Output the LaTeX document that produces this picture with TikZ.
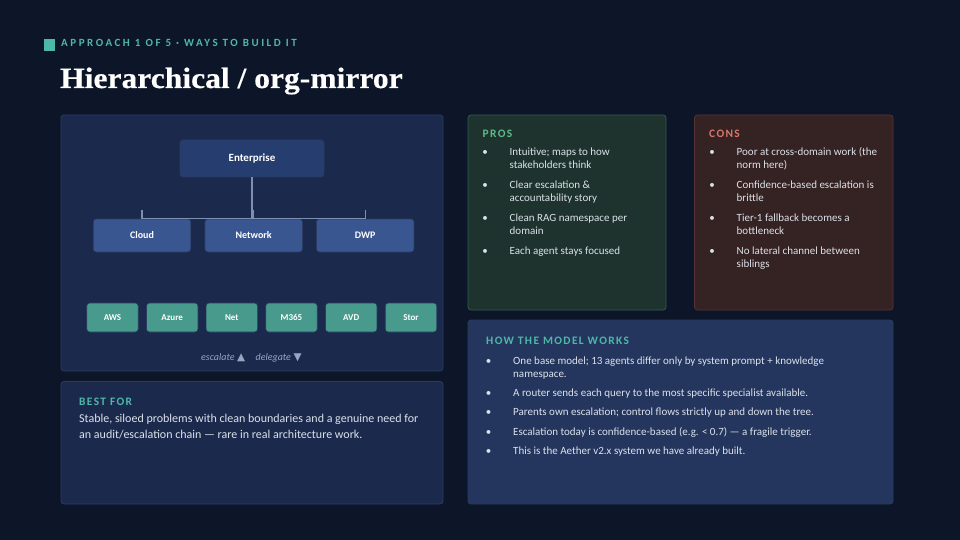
\documentclass[tikz,border=0pt]{standalone}
\usepackage{fontspec}
\setmainfont{Carlito}
\newfontface\titlefont{Liberation Serif Bold}[FakeStretch=1.07,FakeBold=0.4]
\newfontfamily\symfont{DejaVu Sans}
\definecolor{bgc}{HTML}{0D1629}
\definecolor{panelc}{HTML}{1B2A4C}
\definecolor{panelb}{HTML}{2B3B62}
\definecolor{entc}{HTML}{263D70}
\definecolor{midc}{HTML}{3A5690}
\definecolor{leafc}{HTML}{479A8C}
\definecolor{prosc}{HTML}{1E332D}
\definecolor{prosb}{HTML}{2F5B4B}
\definecolor{consc}{HTML}{352223}
\definecolor{consb}{HTML}{5A3233}
\definecolor{howc}{HTML}{24365E}
\definecolor{accent}{HTML}{4DB8A8}
\definecolor{greenh}{HTML}{5DBB8A}
\definecolor{redh}{HTML}{D9776B}
\definecolor{bodyc}{HTML}{DCE1EA}
\definecolor{linec}{HTML}{7F8FB3}
\definecolor{mutec}{HTML}{98A5C2}
\tikzset{
  x=1pt,y=-1pt,
  panel/.style={rounded corners=3pt,line width=0.8pt},
  box/.style={rounded corners=3pt,line width=0.6pt},
  boxlabel/.style={text=white,font=\fontsize{10}{12}\selectfont\bfseries,inner sep=0pt},
  leaflabel/.style={text=white,font=\fontsize{9}{11}\selectfont\bfseries,inner sep=0pt},
  txt/.style={anchor=base west,inner sep=0pt,text=bodyc,font=\fontsize{11}{13}\selectfont},
  bul/.style={anchor=base,inner sep=0pt,text=bodyc,font=\fontsize{11}{13}\selectfont},
  head/.style={anchor=base west,inner sep=0pt,font=\fontsize{11.4}{13}\selectfont\bfseries},
  conn/.style={draw=linec,line width=1.4pt},
}
\newcommand{\hd}[1]{\addfontfeatures{LetterSpace=12}#1}
\begin{document}
\begin{tikzpicture}
\useasboundingbox (0,0) rectangle (960,540);
\fill[bgc] (0,0) rectangle (960,540);
% header
\fill[accent] (43.5,39.5) rectangle (55,51);
\node[head,text=accent,font=\fontsize{11}{13}\selectfont\bfseries] (eyebrow) at (61,47) {\addfontfeatures{LetterSpace=23}APPROACH 1 OF 5 · WAYS TO BUILD IT};
\node[anchor=base west,inner sep=0pt,text=white] (title) at (60,88) {\titlefont\fontsize{29.5}{33}\selectfont Hierarchical / org-mirror};
% panels
\draw[panel,fill=panelc,draw=panelb] (61,115) rectangle (443,371);
\draw[panel,fill=panelc,draw=panelb] (61,381.5) rectangle (443,504);
\draw[panel,fill=prosc,draw=prosb] (468,115) rectangle (666,310);
\draw[panel,fill=consc,draw=consb] (694.5,115) rectangle (893,310);
\draw[panel,fill=howc,draw=panelb] (468,320) rectangle (893,504);
% tree nodes
\node[box,fill=entc,draw=panelb,minimum width=144pt,minimum height=37pt,inner sep=0pt,boxlabel,font=\fontsize{11}{13}\selectfont\bfseries] (ent) at (252,158.5) {Enterprise};
\foreach \nm/\lab/\cx in {cloud/Cloud/142,net/Network/253.7,dwp/DWP/365.2}
  \node[box,fill=midc,draw=panelb,minimum width=97.5pt,minimum height=33pt,inner sep=0pt,boxlabel] (\nm) at (\cx,235.5) {\lab};
\foreach \nm/\lab/\cx in {aws/AWS/112.5,azure/Azure/172.2,nnet/Net/231.8,m/M365/291.5,avd/AVD/351.2,stor/Stor/411}
  \node[box,fill=leafc,draw=panelb,minimum width=51.5pt,minimum height=29pt,inner sep=0pt,leaflabel] (\nm) at (\cx,317.5) {\lab};
% connectors
\coordinate (cloudtip) at ([yshift=9pt]cloud.north);
\coordinate (nettip) at ([yshift=9pt]net.north);
\coordinate (dwptip) at ([yshift=9pt]dwp.north);
\draw[conn] (ent.south) -- (ent.south |- cloud.north);
\draw[conn] (cloudtip) -- (cloud.north) -- (dwp.north) -- (dwptip);
\draw[conn] (nettip) -- (net.north);
% caption
\node[anchor=base west,inner sep=0pt,text=mutec,font=\fontsize{10}{12}\selectfont\itshape] (esc) at (201,360) {escalate};
\node[anchor=base west,inner sep=0pt,text=mutec,font=\symfont\fontsize{10.5}{12}\selectfont] (up) at (237,360) {▲};
\node[anchor=base west,inner sep=0pt,text=mutec,font=\fontsize{10}{12}\selectfont\itshape] (del) at (255.5,360) {delegate};
\node[anchor=base west,inner sep=0pt,text=mutec,font=\symfont\fontsize{10.5}{12}\selectfont] (down) at (293.5,360) {▼};
% best for
\node[head,text=accent] (bf) at (79,405.5) {\hd{BEST FOR}};
\node[txt,font=\fontsize{12}{14}\selectfont] (bf1) at (79,422) {Stable, siloed problems with clean boundaries and a genuine need for};
\node[txt,font=\fontsize{12}{14}\selectfont] (bf2) at (79,438) {an audit/escalation chain — rare in real architecture work.};
% pros
\node[head,text=greenh] (prosh) at (482.5,138) {\hd{PROS}};
\foreach \i/\y/\t in {a/155.5/{Intuitive; maps to how},b/168.5/{stakeholders think},c/188.5/{Clear escalation \&},d/201.5/{accountability story},e/221/{Clean RAG namespace per},f/234/{domain},g/254/{Each agent stays focused}}
  \node[txt] (p\i) at (509.5,\y) {\t};
\foreach \i/\y in {1/155.5,2/188.5,3/221,4/254}
  \node[bul] (pb\i) at (485,\y) {•};
% cons
\node[head,text=redh] (consh) at (709,138) {\hd{CONS}};
\foreach \i/\y/\t in {a/155.5/{Poor at cross-domain work (the},b/168.5/{norm here)},c/188.5/{Confidence-based escalation is},d/201.5/{brittle},e/221/{Tier-1 fallback becomes a},f/234/{bottleneck},g/254/{No lateral channel between},h/267/{siblings}}
  \node[txt] (c\i) at (736.5,\y) {\t};
\foreach \i/\y in {1/155.5,2/188.5,3/221,4/254}
  \node[bul] (cb\i) at (712,\y) {•};
% how
\node[head,text=accent] (howh) at (486,344.5) {\hd{HOW THE MODEL WORKS}};
\foreach \i/\y/\t in {a/364/{One base model; 13 agents differ only by system prompt + knowledge},b/377.5/{namespace.},c/396.5/{A router sends each query to the most specific specialist available.},d/415.5/{Parents own escalation; control flows strictly up and down the tree.},e/435/{Escalation today is confidence-based (e.g. < 0.7) — a fragile trigger.},f/454/{This is the Aether v2.x system we have already built.}}
  \node[txt] (h\i) at (513,\y) {\t};
\foreach \i/\y in {1/364,2/396.5,3/415.5,4/435,5/454}
  \node[bul] (hb\i) at (488.5,\y) {•};
\end{tikzpicture}
\end{document}
